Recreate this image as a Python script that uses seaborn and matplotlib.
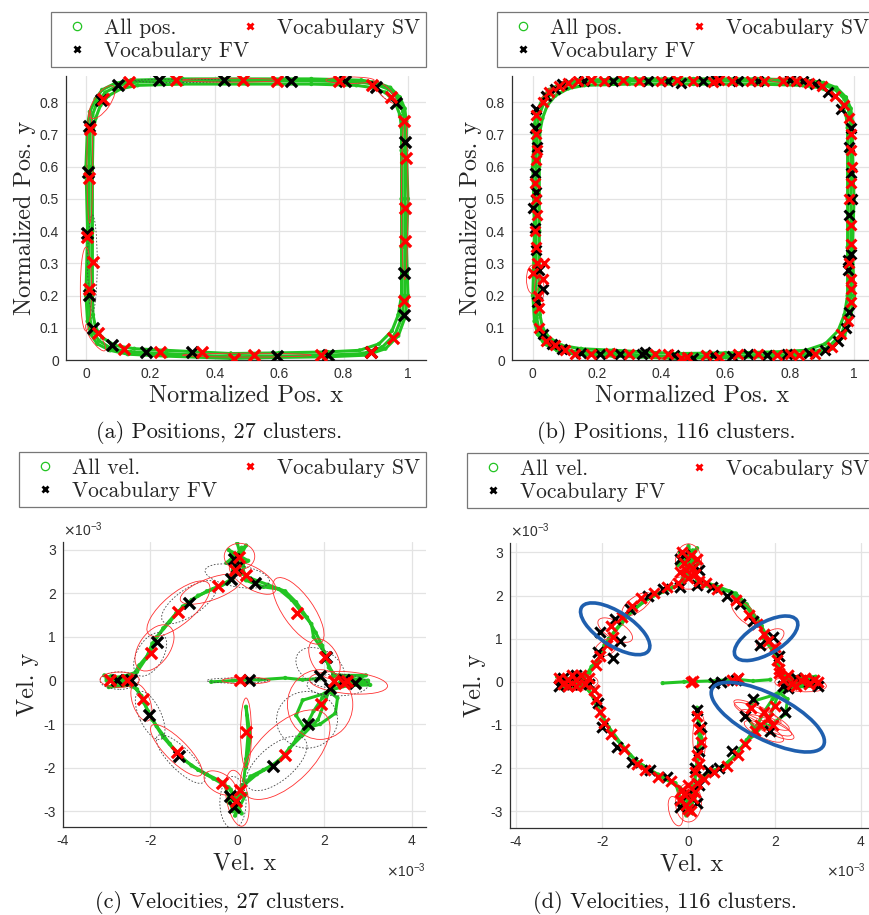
import numpy as np
import pandas as pd
import matplotlib
matplotlib.use("Agg")
import matplotlib.pyplot as plt
import seaborn as sns
from matplotlib.patches import Ellipse
from matplotlib.lines import Line2D
from matplotlib.ticker import FuncFormatter
from matplotlib.font_manager import FontProperties

# ---------------- DATA ----------------
# All positions (normalized), three laps
pos_lapA_x = [0.45, 0.6, 0.75, 0.86, 0.92, 0.96, 0.98, 0.99, 0.99, 0.99, 0.99, 0.99, 0.985, 0.97, 0.94, 0.9, 0.85, 0.7, 0.5, 0.3, 0.15, 0.1, 0.06, 0.035, 0.02, 0.012, 0.01, 0.01, 0.01, 0.012, 0.02, 0.04, 0.08, 0.14, 0.25, 0.45]
pos_lapA_y = [0.01, 0.012, 0.015, 0.02, 0.04, 0.08, 0.13, 0.2, 0.35, 0.5, 0.65, 0.73, 0.77, 0.81, 0.84, 0.855, 0.862, 0.866, 0.866, 0.866, 0.862, 0.852, 0.83, 0.8, 0.76, 0.72, 0.6, 0.4, 0.2, 0.13, 0.09, 0.06, 0.035, 0.025, 0.02, 0.01]
pos_lapB_x = [0.45, 0.6, 0.75, 0.85, 0.91, 0.95, 0.97, 0.98, 0.98, 0.98, 0.98, 0.98, 0.975, 0.96, 0.93, 0.89, 0.84, 0.7, 0.5, 0.3, 0.16, 0.11, 0.07, 0.045, 0.03, 0.022, 0.02, 0.02, 0.02, 0.022, 0.03, 0.05, 0.09, 0.15, 0.25, 0.45]
pos_lapB_y = [0.02, 0.022, 0.025, 0.03, 0.05, 0.09, 0.14, 0.2, 0.35, 0.5, 0.65, 0.72, 0.76, 0.8, 0.83, 0.845, 0.852, 0.856, 0.856, 0.856, 0.852, 0.842, 0.82, 0.79, 0.75, 0.71, 0.6, 0.4, 0.2, 0.14, 0.1, 0.07, 0.045, 0.035, 0.03, 0.02]
pos_lapC_x = [0.45, 0.6, 0.75, 0.87, 0.93, 0.97, 0.99, 1.0, 0.995, 1.0, 0.995, 0.995, 0.99, 0.975, 0.945, 0.905, 0.855, 0.7, 0.5, 0.3, 0.14, 0.09, 0.05, 0.03, 0.012, 0.005, 0.0, 0.005, 0.0, 0.005, 0.015, 0.035, 0.075, 0.13, 0.25, 0.45]
pos_lapC_y = [0.005, 0.008, 0.01, 0.015, 0.035, 0.075, 0.13, 0.2, 0.35, 0.5, 0.65, 0.74, 0.78, 0.815, 0.845, 0.86, 0.868, 0.872, 0.872, 0.872, 0.868, 0.858, 0.838, 0.81, 0.77, 0.73, 0.6, 0.4, 0.2, 0.12, 0.08, 0.05, 0.03, 0.018, 0.012, 0.005]

# (a) vocabulary, 27 clusters
a_fv_x = [0.228, 0.428, 0.636, 0.804, 0.10, 0.90, 0.962, 0.047, 0.01, 0.007, 0.004, 0.01, 0.023, 0.08, 0.185, 0.328, 0.592, 0.752, 0.886, 0.987, 0.988, 0.99]
a_fv_y = [0.868, 0.868, 0.864, 0.866, 0.852, 0.847, 0.797, 0.807, 0.725, 0.582, 0.393, 0.202, 0.098, 0.047, 0.024, 0.024, 0.012, 0.016, 0.026, 0.14, 0.271, 0.676]
a_sv_x = [0.134, 0.281, 0.488, 0.594, 0.786, 0.888, 0.948, 0.052, 0.012, 0.009, 0.004, 0.023, 0.01, 0.038, 0.118, 0.23, 0.359, 0.459, 0.521, 0.731, 0.886, 0.953, 0.988, 0.99, 0.992, 0.993, 0.988]
a_sv_y = [0.862, 0.868, 0.868, 0.864, 0.864, 0.854, 0.816, 0.81, 0.717, 0.564, 0.381, 0.303, 0.219, 0.083, 0.033, 0.024, 0.024, 0.003, 0.016, 0.016, 0.024, 0.067, 0.183, 0.37, 0.473, 0.626, 0.74]

# (b) vocabulary, 116 clusters
b_sv_x = [0.14, 0.18, 0.22, 0.28, 0.33, 0.40, 0.45, 0.50, 0.56, 0.58, 0.62, 0.68, 0.72, 0.78, 0.82,
          0.03, 0.05, 0.08, 0.11,
          0.01, 0.01, 0.012, 0.01, 0.008, 0.01, 0.012, 0.008, 0.01, 0.012, 0.0, 0.03, 0.035, 0.015, 0.02,
          0.02, 0.04, 0.07, 0.10,
          0.13, 0.18, 0.24, 0.30, 0.38, 0.42, 0.46, 0.48, 0.54, 0.58, 0.64, 0.70, 0.76, 0.80, 0.83, 0.88,
          0.93, 0.96, 0.98,
          0.99, 0.99, 0.985, 0.99, 0.99, 0.985, 0.99, 0.995, 0.99, 0.99, 0.985, 0.99,
          0.97, 0.94, 0.90, 0.86]
b_sv_y = [0.865, 0.868, 0.866, 0.868, 0.866, 0.865, 0.868, 0.866, 0.862, 0.87, 0.866, 0.865, 0.864, 0.866, 0.864,
          0.80, 0.83, 0.85, 0.86,
          0.76, 0.70, 0.65, 0.62, 0.55, 0.50, 0.45, 0.40, 0.35, 0.30, 0.27, 0.25, 0.30, 0.20, 0.16,
          0.10, 0.06, 0.045, 0.03,
          0.02, 0.02, 0.022, 0.018, 0.02, 0.018, 0.005, 0.01, 0.015, 0.01, 0.018, 0.018, 0.015, 0.02, 0.015, 0.02,
          0.04, 0.08, 0.12,
          0.18, 0.25, 0.30, 0.36, 0.42, 0.50, 0.55, 0.60, 0.65, 0.70, 0.75, 0.22,
          0.79, 0.82, 0.85, 0.86]
b_fv_x = [0.16, 0.25, 0.36, 0.42, 0.46, 0.53, 0.57, 0.64, 0.70, 0.80, 0.84,
          0.04, 0.07, 0.09,
          0.01, 0.008, 0.012, 0.006, 0.01, 0.0, 0.008, 0.01, 0.02, 0.03, 0.012,
          0.03, 0.06, 0.09,
          0.15, 0.21, 0.27, 0.34, 0.35, 0.44, 0.50, 0.56, 0.62, 0.67, 0.73, 0.79, 0.86,
          0.91, 0.95, 0.975,
          0.985, 0.98, 0.99, 0.985, 0.995, 0.99, 0.985, 0.99, 0.98,
          0.96, 0.92, 0.88]
b_fv_y = [0.866, 0.864, 0.866, 0.864, 0.86, 0.866, 0.87, 0.864, 0.866, 0.868, 0.866,
          0.82, 0.84, 0.855,
          0.78, 0.72, 0.66, 0.58, 0.52, 0.47, 0.41, 0.34, 0.28, 0.22, 0.18,
          0.08, 0.05, 0.035,
          0.022, 0.02, 0.02, 0.02, 0.025, 0.015, 0.005, 0.015, 0.012, 0.018, 0.015, 0.02, 0.022,
          0.03, 0.06, 0.1,
          0.15, 0.28, 0.33, 0.45, 0.5, 0.58, 0.66, 0.72, 0.31,
          0.78, 0.83, 0.855]

# All velocities (units of 1e-3), segments
vel_lap1_x = [0.0, 0.3, 0.7, 1.1, 1.35, 1.6, 1.8, 1.95, 2.05, 2.2, 2.6, 3.0, 2.6, 2.2, 1.95, 1.75, 1.6, 1.35, 1.1, 0.8, 0.45, 0.15, 0.0, -0.2, -0.55, -0.9, -1.25, -1.55, -1.85, -2.05, -2.2, -2.4, -2.8, -3.0, -2.6, -2.3, -2.1, -1.95, -1.7, -1.4, -1.05, -0.7, -0.35, -0.1, 0.0]
vel_lap1_y = [2.5, 2.35, 2.2, 2.05, 1.8, 1.45, 1.1, 0.8, 0.45, 0.15, 0.05, 0.0, -0.1, -0.2, -0.4, -0.7, -1.0, -1.35, -1.7, -1.95, -2.15, -2.4, -2.8, -2.45, -2.25, -2.05, -1.8, -1.45, -1.05, -0.7, -0.35, -0.1, -0.05, 0.05, 0.1, 0.2, 0.5, 0.85, 1.2, 1.55, 1.85, 2.05, 2.2, 2.35, 2.9]
vel_lap2_x = [0.05, 0.2, 0.6, 0.95, 1.25, 1.45, 1.7, 1.75, 2.0, 2.1, 2.3, 2.9, 2.4, 2.0, 1.5, 1.35, 1.55, 1.9, 2.25, 2.3, 2.1, 1.85, 1.5, 1.2, 0.95, 0.6, 0.3, 0.05, -0.1, -0.3, -0.7, -1.05, -1.35, -1.7, -1.95, -2.15, -2.3, -2.9, -2.5, -2.25, -2.0, -1.85, -1.55, -1.25, -0.9, -0.55, -0.2, 0.1]
vel_lap2_y = [2.9, 2.3, 2.15, 2.1, 1.85, 1.6, 1.3, 1.0, 0.65, 0.3, 0.05, -0.05, 0.0, -0.3, -0.45, -0.8, -1.1, -1.0, -0.75, -0.4, -0.25, -0.9, -1.25, -1.55, -1.85, -2.05, -2.2, -2.6, -3.0, -2.35, -2.15, -1.95, -1.7, -1.3, -0.9, -0.5, -0.2, 0.1, -0.05, 0.35, 0.65, 1.0, 1.35, 1.7, 1.95, 2.1, 2.25, 3.05]
vel_top_x = [-0.25, 0.2, -0.1, 0.25, -0.2, 0.15, 0.0]
vel_top_y = [2.7, 3.1, 2.55, 2.75, 3.0, 2.6, 3.15]
vel_right_x = [2.2, 3.05, 2.4, 2.95, 2.35, 3.0, 2.5]
vel_right_y = [0.1, -0.1, -0.12, 0.12, 0.12, -0.05, 0.0]
vel_bottom_x = [-0.15, 0.1, -0.2, 0.2, -0.05, 0.1]
vel_bottom_y = [-2.5, -3.05, -2.8, -2.6, -3.1, -2.4]
vel_left_x = [-3.05, -2.4, -2.95, -2.35, -3.0, -2.5]
vel_left_y = [0.12, -0.1, -0.15, 0.15, 0.0, 0.08]
vel_hspur_x = [-0.6, -0.1, 0.5, 1.1, 1.5, 1.9]
vel_hspur_y = [-0.03, 0.0, 0.02, 0.06, 0.02, 0.05]
vel_vspur_x = [0.15, 0.2, 0.25, 0.2, 0.3, 0.2]
vel_vspur_y = [-2.3, -1.8, -1.2, -0.6, -1.3, -2.0]

# (c) vocabulary, 27 clusters (1e-3)
c_fv_x = [-0.08, 0.0, -0.14, 0.41, -1.11, -1.84, -2.76, -2.45, -2.03, -1.33, -0.16, -0.08, 0.83, 1.63, 2.13, 1.9, 2.04, 0.26, 2.7, 2.44]
c_fv_y = [2.8, 2.61, 2.34, 2.25, 1.79, 0.89, 0.02, 0.02, -0.8, -1.73, -2.66, -2.89, -1.97, -0.99, -0.16, 0.11, 0.55, 0.02, -0.05, 0.02]
c_sv_x = [0.05, -0.05, 0.21, -0.45, -1.37, -1.97, -2.91, -2.53, -2.16, -1.38, -0.35, 0.07, -0.03, 1.1, 0.21, 1.92, 2.02, 1.38, 0.07, 2.21, 2.51, 2.44]
c_sv_y = [2.84, 2.53, 2.42, 2.17, 1.58, 0.64, 0.02, 0.02, -0.42, -1.65, -2.35, -2.5, -2.77, -1.7, -1.17, -0.54, 0.53, 1.56, 0.02, -0.01, -0.01, -0.05]

# (d) vocabulary, 116 clusters (1e-3)
d_sv_x = [-0.15, 0.05, 0.2, -0.1, 0.1, -0.2, 0.15, 0.0, 0.25, -0.05,
          0.4, 0.65, 1.1, 1.4, 1.6, 1.75, 1.85, 2.0, 2.05, 2.1,
          2.2, 2.4, 2.6, 2.8, 3.0, 2.3, 2.5, 2.7, 2.1, 2.9,
          1.45, 1.75, 2.0, 1.85, 1.65, 1.55, 1.95, 1.3, 1.15, 0.9, 0.6, 0.35,
          0.2, 0.25, 0.3, 0.2, 0.25, 0.15,
          0.0, -0.1, 0.1, -0.05, 0.05, -0.15, 0.15, 0.0, -0.2, 0.2,
          -0.4, -0.7, -1.0, -1.2, -1.5, -1.8, -1.95, -2.05, -2.15, -2.2,
          -3.0, -2.8, -2.6, -2.4, -2.9, -2.7, -2.5, -2.3, -2.8, -2.6,
          -2.15, -2.05, -1.9, -1.75, -1.8, -1.55, -1.3, -1.1, -0.8, -0.5, -0.25,
          0.05, 0.1, 1.0, 1.15]
d_sv_y = [3.0, 2.95, 2.85, 2.75, 2.65, 2.55, 2.5, 2.4, 2.35, 2.6,
          2.3, 2.15, 1.9, 1.55, 1.35, 1.1, 0.95, 0.8, 0.5, 0.3,
          0.05, -0.05, 0.05, -0.05, 0.0, 0.15, -0.1, 0.1, 0.2, 0.05,
          -0.6, -0.7, -0.55, -0.85, -1.0, -1.15, -1.0, -1.45, -1.7, -1.95, -2.1, -2.25,
          -0.8, -1.1, -1.4, -1.7, -1.9, -2.1,
          -2.4, -2.6, -2.7, -2.85, -3.0, -2.5, -2.55, -2.95, -2.75, -2.35,
          -2.3, -2.2, -2.05, -1.9, -1.55, -1.2, -0.95, -0.7, -0.4, -0.2,
          0.1, -0.1, 0.05, -0.05, -0.05, 0.15, 0.15, 0.1, 0.05, -0.1,
          0.4, 0.6, 0.85, 1.05, 1.3, 1.5, 1.75, 1.95, 2.05, 2.2, 2.3,
          0.0, 0.02, 0.05, 0.1]
d_fv_x = [-0.2, 0.25, 0.2, -0.1,
          0.55, 0.9, 1.2, 1.5, 1.65, 1.95, 2.1,
          2.2, 2.5, 2.8, 3.0, 2.3,
          1.5, 1.3, 2.25, 1.9, 1.0, 0.7, 0.45,
          0.2, 0.3, 0.25, 0.15,
          0.2, -0.2, 0.0, 0.25,
          -0.5, -0.9, -1.3, -1.65, -2.0, -2.1,
          -2.9, -2.6, -2.3, -3.0, -2.7,
          -2.1, -1.75, -2.05, -1.7, -1.6, -1.35, -0.95, -0.6, -0.2,
          0.6, 1.1, 0.75]
d_fv_y = [2.85, 2.6, 2.25, 2.95,
          2.2, 2.0, 1.8, 1.4, 0.85, 1.05, 0.6,
          -0.1, 0.1, 0.0, -0.1, -0.15,
          -0.4, -0.8, -0.7, -1.15, -1.6, -2.0, -2.05,
          -0.65, -1.05, -1.6, -2.0,
          -2.8, -2.9, -2.6, -2.4,
          -2.2, -2.05, -1.85, -1.5, -1.05, -0.5,
          0.1, 0.15, -0.05, -0.1, -0.05,
          0.7, 0.55, 1.15, 1.45, 0.95, 1.7, 2.0, 2.15, 2.2,
          -0.02, 0.05, 0.0]

# covariance ellipses: (cx, cy, width, height, angle)
a_red_ell = [(0.05, 0.80, 0.12, 0.05, 55), (0.0, 0.22, 0.035, 0.26, 0), (0.012, 0.6, 0.018, 0.35, 0),
             (0.82, 0.868, 0.15, 0.02, 0), (0.45, 0.868, 0.3, 0.012, 0), (0.99, 0.5, 0.02, 0.5, 0),
             (0.5, 0.015, 0.4, 0.012, 0), (0.03, 0.07, 0.03, 0.1, 35), (0.93, 0.83, 0.09, 0.03, -45)]
a_blk_ell = [(0.93, 0.83, 0.08, 0.03, -45), (0.02, 0.3, 0.03, 0.3, 0), (0.3, 0.866, 0.3, 0.01, 0)]
b_red_ell = [(0.0, 0.25, 0.04, 0.09, 0), (0.02, 0.22, 0.03, 0.08, 0), (0.8, 0.868, 0.12, 0.015, 0),
             (0.45, 0.005, 0.1, 0.015, 0), (0.05, 0.82, 0.07, 0.03, 50)]
c_red_ell = [(0.05, 2.85, 0.7, 0.6, 0), (0.35, 2.35, 1.2, 0.5, -30), (-0.6, 2.1, 1.5, 0.5, 20),
             (-1.35, 1.65, 1.8, 0.7, 40), (-1.9, 0.75, 1.2, 0.7, 55), (-2.7, 0.02, 0.9, 0.35, 0),
             (-2.2, -0.5, 0.9, 0.4, -70), (-1.4, -1.6, 1.6, 0.5, -45), (-0.4, -2.35, 0.8, 0.45, -30),
             (0.0, -2.7, 0.5, 1.3, 10), (0.2, -1.2, 0.25, 1.6, 0), (1.1, -1.7, 2.6, 1.3, 45),
             (1.9, -0.55, 1.5, 1.6, 0), (1.4, 1.6, 1.8, 0.7, -55), (2.0, 0.5, 1.0, 0.6, -60),
             (2.55, -0.05, 1.8, 0.5, -5), (0.2, 0.0, 1.1, 0.15, 0)]
c_blk_ell = [(0.0, 2.4, 1.5, 0.5, -10), (-1.1, 1.8, 1.5, 0.6, 35), (-2.0, 0.6, 1.1, 0.6, 60),
             (-2.7, 0.0, 0.9, 0.4, 0), (-2.0, -0.8, 1.2, 0.5, -65), (-1.3, -1.8, 1.5, 0.5, -45),
             (-0.1, -2.8, 0.6, 1.2, 0), (0.9, -1.9, 1.7, 0.8, 40), (1.6, -0.9, 1.4, 1.3, 0),
             (1.9, 0.3, 1.2, 0.8, -30), (0.0, 0.0, 1.4, 0.12, 0), (2.3, -0.1, 1.4, 0.5, 0)]
d_red_ell = [(1.7, -0.8, 1.4, 0.3, -25), (1.8, -0.95, 1.3, 0.3, -25), (1.6, -0.7, 1.2, 0.28, -25),
             (1.9, -1.05, 1.2, 0.3, -25), (1.75, -1.15, 1.0, 0.3, -25), (-1.7, 1.2, 0.9, 0.4, -30),
             (-1.9, 0.8, 0.6, 0.35, 30), (1.9, 1.0, 0.7, 0.35, 30), (0.0, 2.8, 0.6, 0.8, 0),
             (0.0, -2.8, 0.6, 0.9, 0), (-2.6, 0.0, 1.0, 0.4, 0), (2.6, -0.05, 1.2, 0.35, -5),
             (-0.3, -3.0, 0.3, 0.7, 15), (0.25, -1.3, 0.3, 1.2, 0), (-1.2, 1.8, 0.8, 0.35, 35),
             (1.3, 1.6, 0.8, 0.35, -45), (0.0, 2.3, 0.8, 0.3, 0)]
d_blue_ell = [(-1.70, 1.23, 1.85, 0.78, -33), (1.80, 1.01, 1.65, 0.72, 30), (1.84, -0.82, 2.9, 1.05, -27)]

# ---------------- STYLE ----------------
sns.set_theme(style="white")
plt.rcParams["font.family"] = ["Liberation Sans", "DejaVu Sans"]
plt.rcParams["axes.unicode_minus"] = False
GREEN = "#22c422"
RED = "#ff0000"
BLACK = "#000000"
SERIF = "cmr10"

fig = plt.figure(figsize=(8.7, 9.15), dpi=100)
W, H = 870.0, 915.0


def add_ax(l, t, r, b):
    return fig.add_axes([l / W, 1 - b / H, (r - l) / W, (b - t) / H])


def seg_df(pairs):
    rows = []
    for k, (xs, ys) in enumerate(pairs):
        for x, y in zip(xs, ys):
            rows.append((x, y, k))
    return pd.DataFrame(rows, columns=["x", "y", "seg"])


pos_df = seg_df([(pos_lapA_x, pos_lapA_y), (pos_lapB_x, pos_lapB_y), (pos_lapC_x, pos_lapC_y)])
vel_df = seg_df([(vel_lap1_x, vel_lap1_y), (vel_lap2_x, vel_lap2_y), (vel_top_x, vel_top_y),
                 (vel_right_x, vel_right_y), (vel_bottom_x, vel_bottom_y), (vel_left_x, vel_left_y),
                 (vel_hspur_x, vel_hspur_y), (vel_vspur_x, vel_vspur_y)])


def style_ax(ax, xlim, ylim, xticks, yticks, xlabel, ylabel):
    ax.set_xlim(*xlim)
    ax.set_ylim(*ylim)
    ax.set_xticks(xticks)
    ax.set_yticks(yticks)
    fmt = FuncFormatter(lambda v, p: f"{v:g}")
    ax.xaxis.set_major_formatter(fmt)
    ax.yaxis.set_major_formatter(fmt)
    ax.grid(True, color="#e3e3e3", lw=0.9)
    ax.set_axisbelow(True)
    for s in ["top", "right"]:
        ax.spines[s].set_visible(False)
    for s in ["left", "bottom"]:
        ax.spines[s].set_color("#303030")
        ax.spines[s].set_linewidth(0.9)
    ax.tick_params(direction="in", length=3, width=0.8, colors="#303030", labelsize=10, pad=5)
    ax.set_xlabel(xlabel, fontfamily=SERIF, fontsize=17.5, color="#262626", labelpad=3)
    ax.set_ylabel(ylabel, fontfamily=SERIF, fontsize=17.5, color="#262626", labelpad=3)
    ax.set_facecolor("white")


def draw_ell(ax, ells, color, ls, lw):
    for cx, cy, w, h, ang in ells:
        ax.add_patch(Ellipse((cx, cy), w, h, angle=ang, fill=False, ec=color, ls=ls, lw=lw, zorder=3))


def draw_panel(ax, traj, ms, sv_x, sv_y, fv_x, fv_y, red_ell, blk_ell, s_mark, lw_mark):
    sns.lineplot(data=traj, x="x", y="y", units="seg", estimator=None, sort=False,
                 color=GREEN, lw=2.2, ax=ax, legend=False, zorder=2)
    sns.scatterplot(data=traj, x="x", y="y", marker="o", s=ms, facecolor="none",
                    edgecolor=GREEN, linewidth=0.8, ax=ax, legend=False, zorder=2)
    draw_ell(ax, blk_ell, "#444444", (0, (2, 2)), 0.6)
    draw_ell(ax, red_ell, "#ff3030", "-", 0.6)
    sns.scatterplot(x=fv_x, y=fv_y, marker="x", s=s_mark, color=BLACK, linewidth=lw_mark, ax=ax, legend=False, zorder=5)
    sns.scatterplot(x=sv_x, y=sv_y, marker="x", s=s_mark, color=RED, linewidth=lw_mark, ax=ax, legend=False, zorder=6)


def make_legend(ax, first, x0, top, w):
    handles = [Line2D([], [], ls="none", marker="o", mfc="none", mec=GREEN, ms=6, mew=0.9),
               Line2D([], [], ls="none", marker="x", color=BLACK, ms=4, mew=2),
               Line2D([], [], ls="none", marker="x", color=RED, ms=4, mew=2)]
    labels = [first, "Vocabulary FV", "Vocabulary SV"]
    leg = ax.legend(handles, labels, loc="upper left", bbox_to_anchor=(x0 / W, 1 - top / H, w / W, 0),
                    bbox_transform=fig.transFigure, mode="expand", ncol=2, frameon=True, fancybox=False,
                    prop=FontProperties(family=SERIF, size=15.5), borderaxespad=0, handletextpad=0.3,
                    labelspacing=0.18, borderpad=0.28, handlelength=1.9, columnspacing=1.0)
    leg.get_frame().set_edgecolor("#555555")
    leg.get_frame().set_linewidth(0.9)


pos_xt = [0, 0.2, 0.4, 0.6, 0.8, 1]
pos_yt = [0, 0.1, 0.2, 0.3, 0.4, 0.5, 0.6, 0.7, 0.8]
vel_t = [-4, -2, 0, 2, 4]
vel_yt = [-3, -2, -1, 0, 1, 2, 3]

# (a)
axa = add_ax(66, 76, 426, 360)
draw_panel(axa, pos_df, 5, a_sv_x, a_sv_y, a_fv_x, a_fv_y, a_red_ell, a_blk_ell, 65, 2.4)
style_ax(axa, (-0.062, 1.056), (0, 0.881), pos_xt, pos_yt, "Normalized Pos. x", "Normalized Pos. y")
make_legend(axa, "All pos.", 51, 12, 375)

# (b)
axb = add_ax(512, 76, 872, 360)
draw_panel(axb, pos_df, 5, b_sv_x, b_sv_y, b_fv_x, b_fv_y, b_red_ell, [], 50, 2.2)
style_ax(axb, (-0.065, 1.056), (0, 0.881), pos_xt, pos_yt, "Normalized Pos. x", "Normalized Pos. y")
make_legend(axb, "All pos.", 497, 12, 378)

# (c)
axc = add_ax(63, 542, 426, 827)
draw_panel(axc, vel_df, 5, c_sv_x, c_sv_y, c_fv_x, c_fv_y, c_red_ell, c_blk_ell, 65, 2.4)
style_ax(axc, (-4, 4.33), (-3.36, 3.18), vel_t, vel_yt, "Vel. x", "Vel. y")
make_legend(axc, "All vel.", 19, 452, 407)

# (d)
axd = add_ax(510, 543, 873, 828)
draw_panel(axd, vel_df, 5, d_sv_x, d_sv_y, d_fv_x, d_fv_y, d_red_ell, [], 55, 2.2)
for cx, cy, w, h, ang in d_blue_ell:
    axd.add_patch(Ellipse((cx, cy), w, h, angle=ang, fill=False, ec="#1f5fae", lw=2.6, zorder=8))
style_ax(axd, (-4.14, 4.28), (-3.39, 3.22), vel_t, vel_yt, "Vel. x", "Vel. y")
make_legend(axd, "All vel.", 467, 453, 408)

off_kw = dict(fontsize=10, color="#303030")
for ax in (axc, axd):
    ax.text(0.0, 1.012, r"$\times\mathregular{10^{-3}}$", transform=ax.transAxes, ha="left", va="bottom", **off_kw)
axc.text(1.0, -0.12, r"$\times\mathregular{10^{-3}}$", transform=axc.transAxes, ha="right", va="top", **off_kw)
fig.text(866 / W, 1 - 861 / H, r"$\times\mathregular{10^{-3}}$", ha="right", va="top", **off_kw)

# captions
cap_kw = dict(fontfamily=SERIF, fontsize=16, ha="center", va="center", color="#1a1a1a")
fig.text(219 / W, 1 - 432 / H, "(a) Positions, 27 clusters.", **cap_kw)
fig.text(666 / W, 1 - 432 / H, "(b) Positions, 116 clusters.", **cap_kw)
fig.text(220 / W, 1 - 903 / H, "(c) Velocities, 27 clusters.", **cap_kw)
fig.text(665 / W, 1 - 903 / H, "(d) Velocities, 116 clusters.", **cap_kw)

fig.savefig("out.png", dpi=100, facecolor="white")
